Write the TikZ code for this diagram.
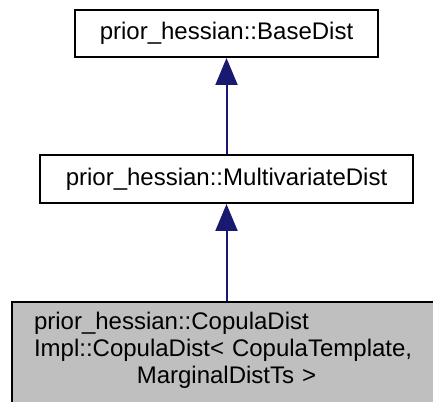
\documentclass[tikz,border=0pt]{standalone}
\usepackage{fontspec}
\setmainfont{Liberation Sans}
\usetikzlibrary{arrows.meta, positioning}
\definecolor{edgeblue}{HTML}{191970}
\definecolor{boxgray}{HTML}{BFBFBF}

\begin{document}
\begin{tikzpicture}[
  x=1pt, y=1pt,
  cls/.style={draw, line width=2pt, inner sep=0pt, font=\fontsize{24}{27}\selectfont},
  inh/.style={draw=edgeblue, line width=2pt, -{Triangle[length=27pt, width=22pt, fill=edgeblue]}}
  ]
  \useasboundingbox (0,0) rectangle (433,401);
  \clip (0,0) rectangle (433,401);

  \node[cls, fill=boxgray, anchor=north, text width=385pt, inner xsep=22pt, inner ysep=10pt] (copula) at (226.5,100)
    {\raggedright prior\_hessian::CopulaDist\\Impl::CopulaDist< CopulaTemplate,\par
     \centering MarginalDistTs >\par\vspace{30pt}\null};
  \node[cls, minimum width=303, minimum height=47] (base) at (226.5,367.5) {prior\_hessian::BaseDist};
  \node[cls, minimum width=373, minimum height=48] (multi) at (226.5,222) {prior\_hessian::MultivariateDist};

  \draw[inh] (multi.north) -- (base.south);
  \draw[inh] (copula.north) -- (multi.south);
\end{tikzpicture}
\end{document}
